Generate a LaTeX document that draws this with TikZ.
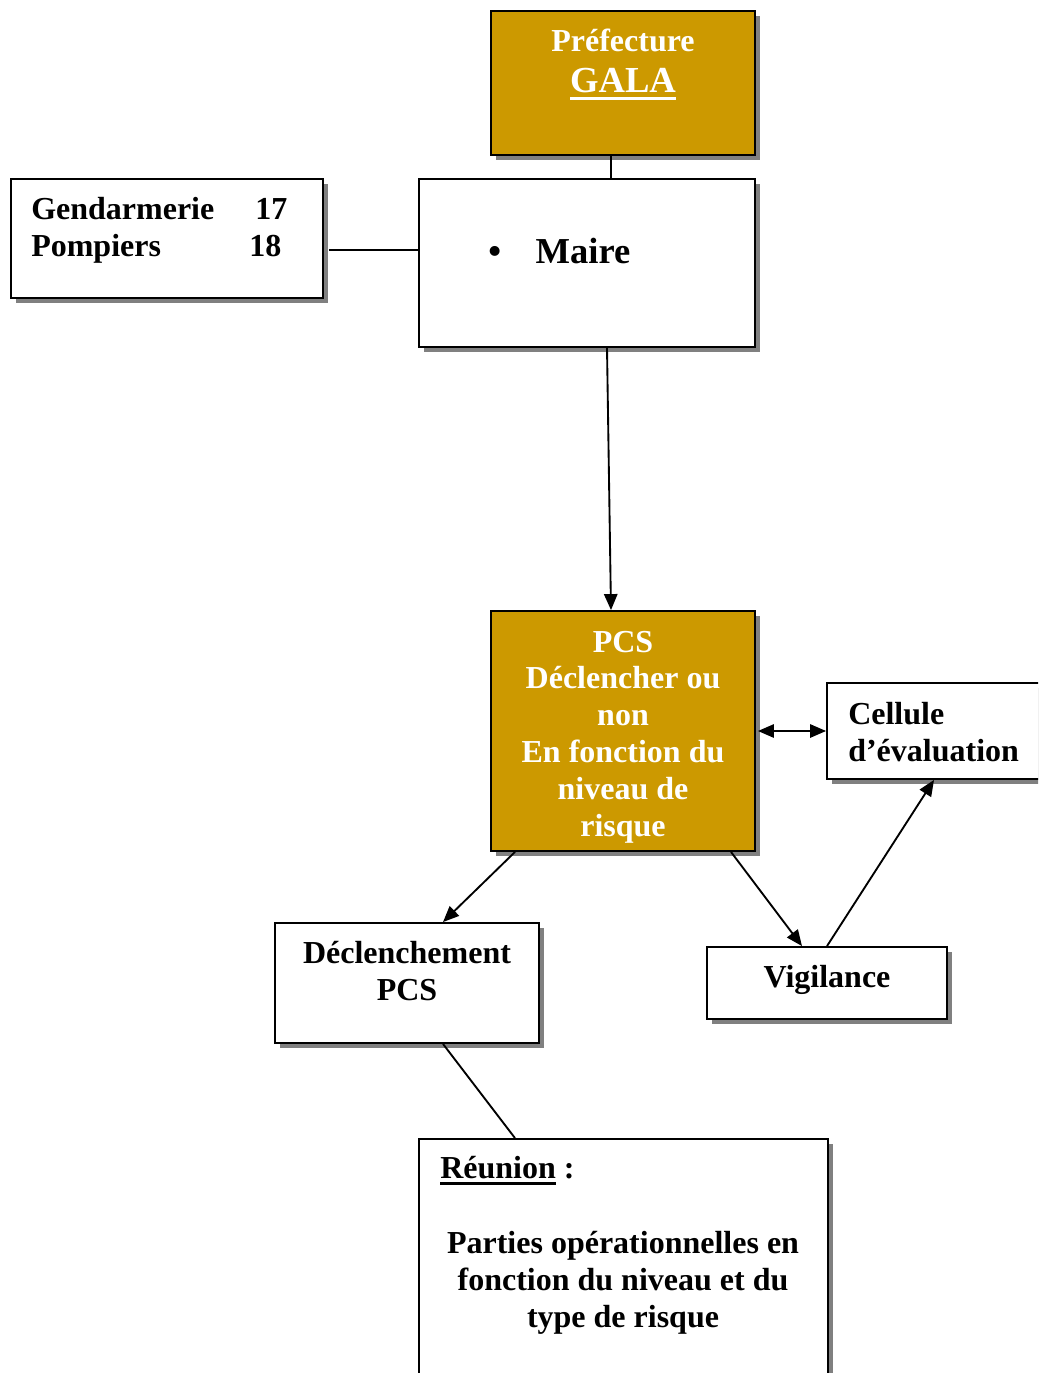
\documentclass[tikz,border=0pt]{standalone}
\usepackage{fontspec}
\setmainfont{Liberation Serif}
\usepackage{tikz}
\usetikzlibrary{arrows.meta}
\usetikzlibrary{shadows}
\usepackage{xcolor}
\definecolor{prefgold}{HTML}{CC9900}
\newcommand\undl[3]{\setbox0\hbox{#1}\rlap{\rule[-#2]{\wd0}{#3}}\box0}

\begin{document}
\begin{tikzpicture}[x=0.75pt,y=-0.75pt]
  \tikzset{
box/.style={draw, line width=1.4pt, fill=white, inner sep=0pt,
    drop shadow={shadow xshift=4pt, shadow yshift=-4pt, fill=gray, opacity=1}},
goldbox/.style={box, fill=prefgold},
txt/.style={inner sep=0pt, font=\bfseries\fontsize{24}{27.6}\selectfont, align=center},
wtxt/.style={txt, text=white},
link/.style={line width=1.4pt},
arr/.style={link, -{Triangle[length=12pt,width=10pt]}},
biarr/.style={link, {Triangle[length=12pt,width=10pt]}-{Triangle[length=12pt,width=10pt]}},
}
  \useasboundingbox (0,0) rectangle (1038,1373);
  \clip (0,0) rectangle (1038,1373);

  % Boxes
  \node [goldbox, minimum width=198pt, minimum height=108pt] (prefecture) at (623,83) {};
  \node [box, minimum width=252pt, minimum height=126pt] (maire) at (587,263) {};
  \node [box, minimum width=234pt, minimum height=89.25pt] (urgence) at (167,238.5) {};
  \node [goldbox, minimum width=198pt, minimum height=180pt] (pcs) at (623,731) {};
  \node [box, minimum width=163.5pt, minimum height=72pt] (cellule) at (936,731) {};
  \node [box, minimum width=198pt, minimum height=90pt] (declench) at (407,983) {};
  \node [box, minimum width=180pt, minimum height=54pt] (vigilance) at (827,983) {};
  \node [box, minimum width=306.75pt, minimum height=195.75pt] (reunion) at (623.5,1269.5) {};

  % Texts
  \node [wtxt, anchor=base] (preftxt) at (623,52) {Préfecture};
  \node [wtxt, anchor=base, font=\bfseries\fontsize{27.5}{31}\selectfont] (galatxt) at (623,93) {\undl{GALA}{5.25pt}{2.25pt}};
  \node [txt, anchor=base west, font=\bfseries\fontsize{27.4}{31}\selectfont] (mairetxt) at (488,263) {\textbullet\hspace{26pt}Maire};
  \node [txt, anchor=west, align=left] (urgtxt) at (31,230) {\makebox[168pt][l]{Gendarmerie}17\\\makebox[163.5pt][l]{Pompiers}18};
  \node [wtxt] (pcstxt) at (623,737) {PCS\\Déclencher ou\\non\\En fonction du\\niveau de\\risque};
  \node [txt, anchor=west, align=left] (celltxt) at (848,732) {Cellule\\d’évaluation};
  \node [txt] (decltxt) at (407,971) {Déclenchement\\PCS};
  \node [txt, anchor=base] (vigtxt) at (827,987) {Vigilance};
  \node [txt, anchor=base west] (reuntxt) at (440,1178) {\undl{Réunion}{5pt}{2.2pt}\ :};
  \node [txt] (partstxt) at (623,1283) {Parties opérationnelles en\\fonction du niveau et du\\type de risque};

  % Edges
  \coordinate (p1) at ([xshift=-9pt]prefecture.south);
  \draw [link] (p1) -- (p1 |- maire.north);
  \coordinate (g1) at ([yshift=-8.6pt]urgence.east);
  \draw [link] ([xshift=4pt]g1) -- (g1 -| maire.west);
  \draw [arr] ([xshift=15pt]maire.south) -- ([xshift=-9pt]pcs.north);
  \draw [biarr] ([xshift=1.5pt]pcs.east) -- (cellule.west);
  \draw [arr] ([xshift=-81pt]pcs.south) -- ([xshift=27pt]declench.north);
  \draw [arr] ([xshift=81pt]pcs.south) -- ([xshift=-18.75pt]vigilance.north);
  \draw [arr] (vigilance.north) -- ([xshift=-1.5pt]cellule.south);
  \draw [link] ([xshift=27pt]declench.south) -- ([xshift=-81.4pt]reunion.north);
\end{tikzpicture}
\end{document}
